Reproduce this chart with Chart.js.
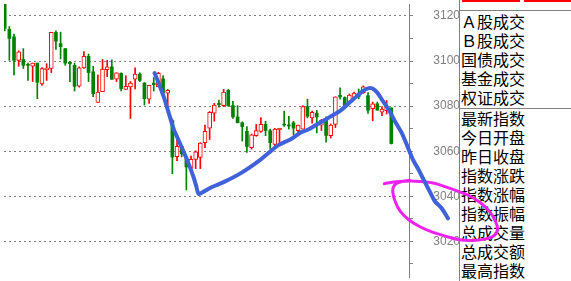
<!DOCTYPE html>
<html>
<head>
<meta charset="utf-8">
<script src="https://cdn.jsdelivr.net/npm/chart.js@4/dist/chart.umd.min.js"></script>
<style>
  html, body { margin: 0; padding: 0; background: #fff; }
  #wrap { position: relative; width: 571px; height: 281px; overflow: hidden; }
  #panel {
    position: absolute; left: 459px; top: 0; width: 112px; height: 281px;
    border-left: 1px solid #808080;
    font-family: "Noto Sans CJK SC", sans-serif; font-size: 16px; color: #000;
  }
  .bar { position: absolute; top: 0; height: 2px; background: #ff0000; }
  .rule { position: absolute; left: 0; right: 0; height: 0; border-top: 1px solid #808080; }
  .rows { position: absolute; left: 1px; }
  .rows div { height: 19px; line-height: 19px; white-space: nowrap; }
  #quote div { height: 19.1px; }
  #chart { position: absolute; left: 0; top: 0; }
</style>
</head>
<body>
<div id="wrap">
  <div id="panel">
    <div class="bar" style="left:2px;width:58px"></div>
    <div class="bar" style="left:64px;width:48px"></div>
    <div class="rule" style="top:10px"></div>
    <div class="rows" id="trade" style="top:12px"></div>
    <div class="rule" style="top:108px"></div>
    <div class="rows" id="quote" style="top:108.5px"></div>
  </div>
  <canvas id="chart" width="571" height="281"></canvas>
</div>
<script>
// daily candles, one per trading day
const open = [3127, 3114.1, 3110.7, 3100.3, 3100.7, 3098.5, 3097.7, 3099.1, 3089.8, 3096.2,
  3096.7, 3112.7, 3107.7, 3105.5, 3099.5, 3098.1, 3088.8, 3096.9, 3102.1, 3095.2,
  3081.6, 3086.4, 3096.2, 3097.4, 3091.9, 3094.5, 3087.4, 3088.5, 3091.9, 3094.2,
  3090.2, 3083.1, 3090.2, 3088.6, 3092.1, 3085.8, 3073.6, 3057.6, 3062.2, 3056.6,
  3052.4, 3056.4, 3057.2, 3063.8, 3070.2, 3076.9, 3081.2, 3080.2, 3087.0, 3080.2,
  3075.2, 3072.6, 3068.8, 3061.6, 3066.9, 3068.8, 3071.9, 3069.1, 3063.0, 3069.5,
  3072.0, 3071.6, 3072.6, 3069.1, 3069.8, 3079.8, 3074.8, 3076.9, 3071.6, 3074.5,
  3066.9, 3071.9, 3084.8, 3083.8, 3081.6, 3083.9, 3085.0, 3086.0, 3084.6, 3078.9,
  3081.0, 3077.3, 3078.0, 3079.2];
const high = [3129, 3115.3, 3112.0, 3104.5, 3105.5, 3099.1, 3099.1, 3099.1, 3097.1, 3098.8,
  3112.7, 3113.4, 3112.8, 3105.5, 3099.5, 3099.1, 3097.4, 3104.2, 3103.1, 3097.7,
  3093.8, 3100.7, 3100.3, 3100.5, 3094.8, 3094.8, 3093.5, 3090.9, 3097.0, 3094.8,
  3090.5, 3089.2, 3092.7, 3095.0, 3093.5, 3087.4, 3074.3, 3065.8, 3062.5, 3056.8,
  3057.8, 3060.2, 3063.8, 3071.6, 3077.6, 3081.2, 3082.7, 3087.4, 3087.4, 3082.1,
  3080.2, 3073.0, 3070.9, 3067.6, 3071.9, 3074.9, 3073.3, 3069.8, 3070.2, 3070.2,
  3077.8, 3075.5, 3073.3, 3071.6, 3080.2, 3083.1, 3077.8, 3078.1, 3074.1, 3075.2,
  3072.1, 3084.1, 3088.1, 3084.1, 3085.4, 3086.2, 3087.6, 3089.0, 3086.0, 3081.8,
  3081.8, 3079.8, 3082.5, 3079.2];
const low = [3113.4, 3100.3, 3093.8, 3097.7, 3096.7, 3091.4, 3090.9, 3083.3, 3089.2, 3091.4,
  3094.9, 3105.2, 3100.9, 3098.1, 3090.9, 3086.7, 3088.4, 3096.7, 3090.9, 3084.2,
  3081.6, 3086.4, 3093.1, 3091.9, 3090.9, 3086.7, 3087.4, 3074.5, 3087.6, 3090.9,
  3080.5, 3081.2, 3086.7, 3088.6, 3086.0, 3077.0, 3050.0, 3055.8, 3057.5, 3042.8,
  3051.3, 3052.3, 3052.3, 3061.6, 3065.2, 3073.3, 3079.5, 3079.8, 3079.9, 3074.5,
  3072.6, 3064.5, 3059.5, 3060.9, 3066.6, 3068.3, 3066.9, 3061.2, 3062.6, 3063.8,
  3071.0, 3069.8, 3067.3, 3068.1, 3069.8, 3074.8, 3072.4, 3068.1, 3069.2, 3064.0,
  3065.9, 3070.5, 3083.1, 3079.5, 3081.2, 3083.5, 3083.2, 3085.6, 3076.8, 3073.5,
  3078.2, 3075.8, 3076.5, 3063.2];
const close = [3114.5, 3110.0, 3100.3, 3104.1, 3098.1, 3098.1, 3099.1, 3090.6, 3096.7, 3096.9,
  3112.7, 3108.8, 3106.4, 3099.1, 3098.8, 3088.8, 3097.0, 3102.1, 3094.9, 3085.5,
  3086.2, 3096.4, 3097.4, 3091.9, 3094.8, 3087.8, 3088.8, 3090.2, 3094.2, 3091.4,
  3083.3, 3089.2, 3089.5, 3094.6, 3086.0, 3087.0, 3057.4, 3062.2, 3058.8, 3053.0,
  3056.4, 3059.7, 3063.6, 3068.8, 3077.3, 3080.5, 3080.6, 3086.2, 3080.2, 3075.2,
  3072.6, 3070.9, 3062.1, 3067.3, 3069.1, 3071.9, 3069.2, 3063.8, 3069.8, 3070.2,
  3071.6, 3071.2, 3070.2, 3071.6, 3079.8, 3075.5, 3077.3, 3075.2, 3073.8, 3067.0,
  3071.6, 3084.1, 3084.1, 3080.2, 3084.9, 3085.8, 3084.2, 3088.6, 3078.2, 3081.0,
  3078.2, 3078.7, 3079.5, 3063.4];

const priceTicks = [3020, 3040, 3060, 3080, 3100, 3120];

// hand-drawn marks on top of the chart, in (day, price)
const trendDay = [32.17, 33.09, 34.15, 35.21, 36.27, 37.34, 38.40, 39.46, 40.46, 41.10,
  41.63, 42.38, 44.50, 47.33, 50.88, 54.43, 56.56, 58.69, 61.51, 63.64,
  65.06, 66.83, 69.66, 72.15, 74.27, 75.70, 77.10, 78.16, 78.95, 79.95,
  81.01, 82.42, 83.84, 85.26, 86.67, 87.73, 88.80, 89.86, 91.28, 92.35,
  93.77, 95.17];
const trendPrice = [3094.7, 3090.0, 3084.1, 3077.0, 3069.9, 3064.8, 3059.8, 3054.6, 3049.0, 3044.7,
  3041.0, 3041.7, 3044.1, 3046.6, 3050.5, 3055.5, 3059.1, 3062.6, 3065.4, 3068.4,
  3069.5, 3071.6, 3075.0, 3078.1, 3082.0, 3084.6, 3087.0, 3088.0, 3087.8, 3086.1,
  3082.8, 3078.5, 3073.1, 3068.0, 3061.1, 3055.9, 3052.0, 3047.7, 3042.0, 3037.8,
  3034.8, 3030.2];
const loopDay = [81.50, 83.48, 85.97, 89.16, 91.98, 94.83, 97.66, 100.15, 102.27, 104.04,
  105.32, 105.81, 105.10, 103.34, 100.49, 97.66, 94.83, 91.98, 89.16, 86.67,
  84.90, 83.84, 83.32, 83.63, 84.90, 87.03];
const loopPrice = [3045.6, 3046.3, 3046.7, 3046.6, 3045.9, 3044.1, 3042.0, 3039.8, 3036.9, 3033.4,
  3029.1, 3025.4, 3022.6, 3021.1, 3020.4, 3020.7, 3022.2, 3024.0, 3026.5, 3029.7,
  3033.4, 3037.7, 3042.0, 3044.8, 3046.3, 3047.1];

const tradeLabels = ['Ａ股成交', 'Ｂ股成交', '国债成交', '基金成交', '权证成交'];
const quoteLabels = ['最新指数', '今日开盘', '昨日收盘', '指数涨跌', '指数涨幅', '指数振幅', '总成交量', '总成交额', '最高指数'];

function fillRows(id, labels) {
  const box = document.getElementById(id);
  labels.forEach(t => {
    const d = document.createElement('div');
    d.textContent = t;
    box.appendChild(d);
  });
}
fillRows('trade', tradeLabels);
fillRows('quote', quoteLabels);

const UP = '#ff0000';
const DOWN = '#008000';
const days = open.map((_, i) => i);
const isUp = i => close[i] >= open[i];

const wicks = days.map(i => ({ x: i, y: [low[i], high[i]] }));
const upDays = days.filter(isUp);
const downDays = days.filter(i => !isUp(i));

new Chart(document.getElementById('chart'), {
  type: 'bar',
  data: {
    datasets: [
      {
        type: 'line',
        data: trendDay.map((d, k) => ({ x: d, y: trendPrice[k] })),
        borderColor: '#4062d8',
        backgroundColor: '#4062d8',
        borderWidth: 4,
        borderCapStyle: 'round',
        borderJoinStyle: 'round',
        tension: 0.3,
        pointRadius: ctx => (ctx.dataIndex === trendDay.length - 1 ? 3.5 : 0),
        pointBorderWidth: 0,
        clip: false,
        order: 0
      },
      {
        type: 'line',
        data: loopDay.map((d, k) => ({ x: d, y: loopPrice[k] })),
        borderColor: '#ee22ee',
        borderWidth: 3,
        borderCapStyle: 'round',
        borderJoinStyle: 'round',
        tension: 0.4,
        pointRadius: 0,
        clip: false,
        order: 0
      },
      {
        data: upDays.map(i => ({ x: i, y: [open[i], close[i]] })),
        backgroundColor: '#ffffff',
        borderColor: UP,
        borderWidth: 1,
        borderSkipped: false,
        barThickness: 4,
        minBarLength: 1,
        grouped: false,
        order: 1
      },
      {
        data: downDays.map(i => ({ x: i, y: [open[i], close[i]] })),
        backgroundColor: DOWN,
        borderWidth: 0,
        barThickness: 3,
        minBarLength: 1,
        grouped: false,
        order: 1
      },
      {
        data: wicks,
        backgroundColor: days.map(i => (isUp(i) ? UP : DOWN)),
        borderWidth: 0,
        barThickness: 1,
        grouped: false,
        order: 2
      }
    ]
  },
  options: {
    responsive: false,
    animation: false,
    events: [],
    layout: { padding: { right: 111 } },
    plugins: { legend: { display: false }, tooltip: { enabled: false } },
    scales: {
      x: {
        type: 'linear',
        display: false,
        offset: false,
        bounds: 'data',
        afterDataLimits: s => { s.min = -0.15; s.max = 86.8; }
      },
      y: {
        position: 'right',
        min: 3004.2,
        max: 3125.3,
        grid: {
          color: ctx => (ctx.tick && priceTicks.includes(Math.round(ctx.tick.value)) ? '#808080' : 'rgba(0,0,0,0)'),
          tickColor: '#808080',
          tickLength: 4
        },
        border: { color: '#808080', width: 1, dash: [2, 3] },
        ticks: {
          stepSize: 10,
          autoSkip: false,
          includeBounds: false,
          padding: 13,
          crossAlign: 'far',
          color: '#808080',
          font: { family: 'Liberation Sans', size: 12 },
          callback: v => (priceTicks.includes(Math.round(v)) ? String(Math.round(v)) : '')
        },
        afterFit: s => { s.width = 51; s.paddingTop = 0; s.paddingBottom = 0; }
      }
    }
  }
});
</script>
</body>
</html>
